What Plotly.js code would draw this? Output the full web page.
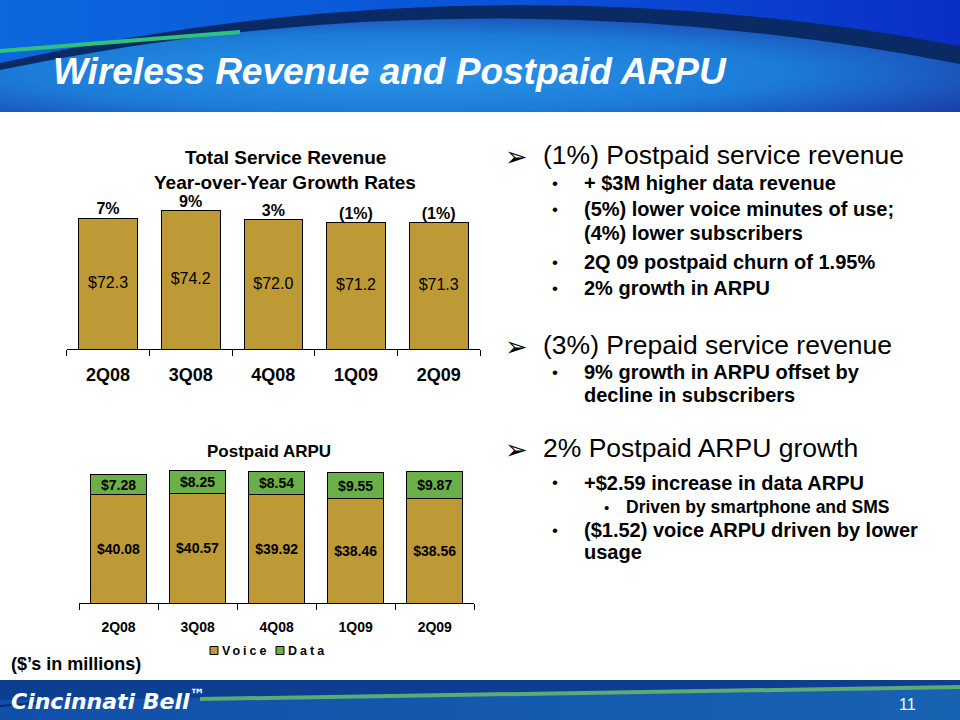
<!DOCTYPE html>
<html>
<head>
<meta charset="utf-8">
<script src="https://cdn.plot.ly/plotly-3.0.1.min.js"></script>
<style>html,body{margin:0;padding:0;background:#fff;}#chart{width:960px;height:720px;}</style>
</head>
<body>
<div id="chart"></div>
<script>
// ---- data ----
const quarters = ['2Q08', '3Q08', '4Q08', '1Q09', '2Q09'];
const serviceRevenue = [72.3, 74.2, 72.0, 71.2, 71.3];
const growthLabels = ['7%', '9%', '3%', '(1%)', '(1%)'];
const voiceArpu = [40.08, 40.57, 39.92, 38.46, 38.56];
const dataArpu = [7.28, 8.25, 8.54, 9.55, 9.87];
const seriesNames = ['Voice', 'Data'];

const FONT = 'Liberation Sans, Arial, sans-serif';
const GOLD = '#BE9A36';
const GREEN = '#6AAF48';
const W = 960, H = 720;
const px = x => x / W;
const py = y => 1 - y / H;
const revRange = [40, 76];   // value axis of the revenue chart
const arpuRange = [0, 50];   // value axis of the ARPU chart

// ---- decorative header / footer (no text) ----
const headerSvg = `<svg xmlns="http://www.w3.org/2000/svg" width="960" height="112" viewBox="0 0 960 112" preserveAspectRatio="none">
<defs>
<linearGradient id="t" x1="0" y1="0" x2="1" y2="0"><stop offset="0" stop-color="#0b68de"/><stop offset="0.55" stop-color="#0a52d8"/><stop offset="1" stop-color="#0a2ec4"/></linearGradient>
<radialGradient id="l" cx="0.42" cy="0.6" r="0.72"><stop offset="0" stop-color="#2a94e8"/><stop offset="0.55" stop-color="#1c7cd8"/><stop offset="1" stop-color="#1a3aa6"/></radialGradient>
</defs>
<rect width="960" height="112" fill="url(#t)"/>
<path d="M0,68 Q480,-34 960,60 L960,112 L0,112 Z" fill="url(#l)"/>
<path d="M0,63 Q480,-44 960,46 L960,64 Q480,-30 0,70 Z" fill="#0a2a66"/>
<path d="M0,51 Q120,41 240,32" stroke="#2fc27c" stroke-width="4" fill="none"/>
</svg>`;
const footerSvg = `<svg xmlns="http://www.w3.org/2000/svg" width="960" height="40" viewBox="0 0 960 40" preserveAspectRatio="none">
<defs><linearGradient id="f" x1="0" y1="0" x2="1" y2="0"><stop offset="0" stop-color="#1050aa"/><stop offset="1" stop-color="#1862b2"/></linearGradient></defs>
<rect width="960" height="40" fill="url(#f)"/>
<path d="M0,0 L960,0 L960,6 Q600,12 200,18 L0,20 Z" fill="#0c3f90"/>
<path d="M200,19 Q600,13 960,7" stroke="#5aab74" stroke-width="4" fill="none"/>
<path d="M0,26 Q20,24 40,23" stroke="#0a2a66" stroke-width="2" fill="none"/>
</svg>`;
const uri = s => 'data:image/svg+xml;charset=utf-8,' + encodeURIComponent(s);

// ---- traces ----
const traces = [
  {
    type: 'bar', x: quarters, y: serviceRevenue, xaxis: 'x', yaxis: 'y',
    marker: {color: GOLD, line: {color: '#000', width: 1}},
    textposition: 'none', showlegend: false, hoverinfo: 'skip'
  },
  {
    // value labels centred in the visible part of each revenue bar
    type: 'scatter', mode: 'text', x: quarters, y: serviceRevenue.map(v => (revRange[0] + v) / 2),
    xaxis: 'x', yaxis: 'y',
    text: serviceRevenue.map(v => '$' + v.toFixed(1)), textposition: 'middle center', cliponaxis: false,
    textfont: {family: FONT, size: 16, color: '#000'},
    showlegend: false, hoverinfo: 'skip'
  },
  {
    type: 'scatter', mode: 'text', x: quarters, y: serviceRevenue, xaxis: 'x', yaxis: 'y',
    text: growthLabels, textposition: 'top center', cliponaxis: false,
    textfont: {family: FONT, size: 16, color: '#000', weight: 'bold'},
    showlegend: false, hoverinfo: 'skip'
  },
  {
    type: 'bar', name: seriesNames[0], x: quarters, y: voiceArpu, xaxis: 'x2', yaxis: 'y2',
    marker: {color: GOLD, line: {color: '#000', width: 1}},
    text: voiceArpu.map(v => '$' + v.toFixed(2)),
    textposition: 'inside', insidetextanchor: 'middle', constraintext: 'none',
    textfont: {family: FONT, size: 14, color: '#000', weight: 'bold'},
    showlegend: false, hoverinfo: 'skip'
  },
  {
    type: 'bar', name: seriesNames[1], x: quarters, y: dataArpu, xaxis: 'x2', yaxis: 'y2',
    marker: {color: GREEN, line: {color: '#000', width: 1}},
    text: dataArpu.map(v => '$' + v.toFixed(2)),
    textposition: 'inside', insidetextanchor: 'middle', constraintext: 'none',
    textfont: {family: FONT, size: 14, color: '#000', weight: 'bold'},
    showlegend: false, hoverinfo: 'skip'
  }
];

// ---- text annotations ----
const ann = [];
function txt(text, x, y, size, opts) {
  ann.push(Object.assign({
    text: text, xref: 'paper', yref: 'paper', x: px(x), y: py(y),
    xanchor: 'left', yanchor: 'middle', showarrow: false, align: 'left',
    font: {family: FONT, size: size, color: '#000'}
  }, opts || {}));
}
// slide title
txt('Wireless Revenue and Postpaid ARPU', 51, 72, 37, {font: {family: FONT, size: 37, color: '#fff', weight: 'bold', style: 'italic'}});
// chart titles
txt('Total Service Revenue', 285, 157, 19, {xanchor: 'center', font: {family: FONT, size: 19, color: '#000', weight: 'bold'}});
txt('Year-over-Year Growth Rates', 285, 182, 19, {xanchor: 'center', font: {family: FONT, size: 19, color: '#000', weight: 'bold'}});
txt('Postpaid ARPU', 269, 451, 17, {xanchor: 'center', font: {family: FONT, size: 17, color: '#000', weight: 'bold'}});
txt('($’s in millions)', 9, 664, 18, {font: {family: FONT, size: 18, color: '#000', weight: 'bold'}});

// legend for the ARPU chart
const shapes = [];
const legendColors = [GOLD, GREEN];
const legendX = [210, 276];
seriesNames.forEach((n, i) => {
  shapes.push({type: 'rect', xref: 'paper', yref: 'paper',
    x0: px(legendX[i]), x1: px(legendX[i] + 8), y0: py(654.5), y1: py(646.5),
    fillcolor: legendColors[i], line: {color: '#000', width: 1}});
  txt('<span style="letter-spacing:3px">' + n + '</span>', legendX[i] + 9.5, 650.5, 12.5,
    {font: {family: FONT, size: 12.5, color: '#000', weight: 'bold'}});
});

// right-hand bullets
const ARROW = {family: 'DejaVu Sans, sans-serif', size: 27, color: '#000'};
const heads = [['(1%) Postpaid service revenue', 155], ['(3%) Prepaid service revenue', 345], ['2% Postpaid ARPU growth', 448]];
heads.forEach(h => {
  txt('➢', 503, h[1] + 1, 27, {font: ARROW});
  txt(h[0], 541, h[1], 26.5, {font: {family: FONT, size: 26.5, color: '#000'}});
});
const subs = [
  ['+ $3M higher data revenue', 183, true],
  ['(5%) lower voice minutes of use;', 209, true],
  ['(4%) lower subscribers', 233, false],
  ['2Q 09 postpaid churn of 1.95%', 262, true],
  ['2% growth in ARPU', 288, true],
  ['9% growth in ARPU offset by', 372, true],
  ['decline in subscribers', 395, false],
  ['+$2.59 increase in data ARPU', 483, true],
  ['($1.52) voice ARPU driven by lower', 530, true],
  ['usage', 552, false]
];
subs.forEach(s => {
  if (s[2]) txt('•', 550, s[1], 17, {font: {family: FONT, size: 17, color: '#000'}});
  txt(s[0], 582, s[1], 20, {font: {family: FONT, size: 20, color: '#000', weight: 'bold'}});
});
txt('•', 602, 507, 15, {font: {family: FONT, size: 15, color: '#000'}});
txt('Driven by smartphone and SMS', 624, 507, 17.5, {font: {family: FONT, size: 17.5, color: '#000', weight: 'bold'}});

// footer text
txt('Cincinnati Bell<sup>™</sup>', 9, 700, 22, {font: {family: 'DejaVu Sans, sans-serif', size: 22, color: '#fff', weight: 'bold', style: 'italic'}});
txt('11', 907, 704, 16, {xanchor: 'center', font: {family: FONT, size: 16, color: '#fff'}});

const xBase = {
  type: 'category', showline: true, linecolor: '#000', linewidth: 1,
  ticks: 'outside', tickson: 'boundaries', ticklen: 6, tickcolor: '#000', tickwidth: 1,
  showgrid: false, zeroline: false, fixedrange: true
};

const layout = {
  width: W, height: H,
  margin: {l: 0, r: 0, t: 0, b: 0},
  paper_bgcolor: '#fff', plot_bgcolor: 'rgba(0,0,0,0)',
  barmode: 'stack', bargap: 0.29,
  showlegend: false,
  xaxis: Object.assign({}, xBase, {
    domain: [px(66.7), px(480)], anchor: 'y',
    tickfont: {family: FONT, size: 18, color: '#000', weight: 'bold'}, ticklabelstandoff: 9
  }),
  yaxis: {domain: [py(349.3), py(203.5)], range: revRange, visible: false, anchor: 'x', fixedrange: true},
  xaxis2: Object.assign({}, xBase, {
    domain: [px(79), px(474.3)], anchor: 'y2',
    tickfont: {family: FONT, size: 14, color: '#000', weight: 'bold'}, ticklabelstandoff: 11
  }),
  yaxis2: {domain: [py(603.3), py(467.55)], range: arpuRange, visible: false, anchor: 'x2', fixedrange: true},
  images: [
    {source: uri(headerSvg), xref: 'paper', yref: 'paper', x: 0, y: 1, sizex: 1, sizey: 112 / H,
     xanchor: 'left', yanchor: 'top', sizing: 'stretch', layer: 'below'},
    {source: uri(footerSvg), xref: 'paper', yref: 'paper', x: 0, y: 40 / H, sizex: 1, sizey: 40 / H,
     xanchor: 'left', yanchor: 'top', sizing: 'stretch', layer: 'below'}
  ],
  shapes: shapes,
  annotations: ann
};

Plotly.newPlot('chart', traces, layout, {staticPlot: true, displayModeBar: false});
</script>
</body>
</html>
